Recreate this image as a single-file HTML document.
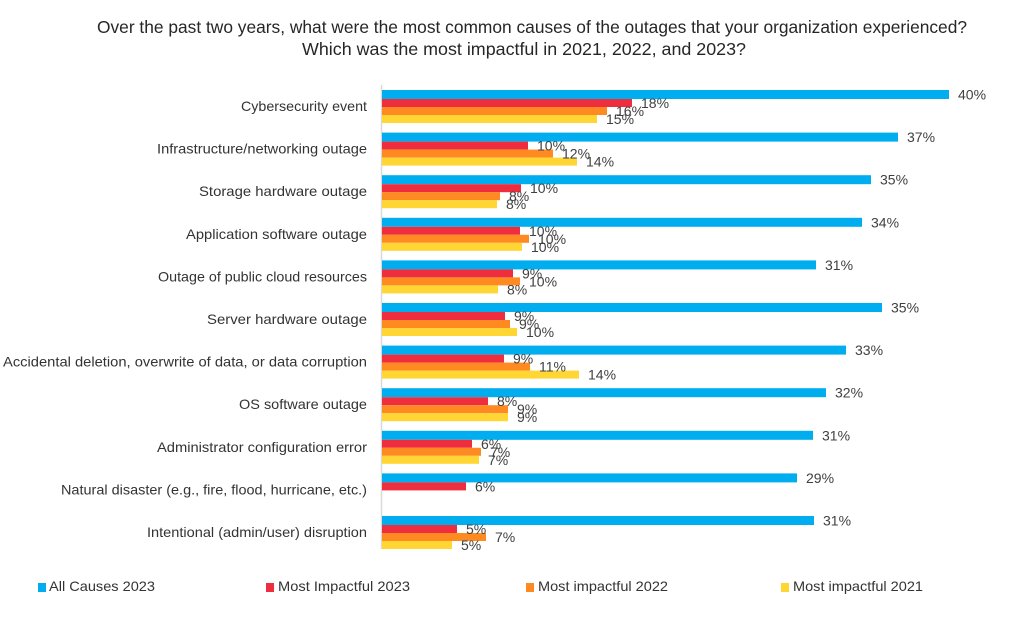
<!DOCTYPE html>
<html>
<head>
<meta charset="utf-8">
<style>
  html, body { margin: 0; padding: 0; background: #ffffff; }
  body { width: 1024px; height: 644px; overflow: hidden; }
  svg { display: block; }
  text { font-family: "Liberation Sans", Arial, sans-serif; }
  .t { font-size: 17.5px; fill: #262626; }
  .c { font-size: 14px; fill: #333333; text-anchor: end; }
  .v { font-size: 14px; fill: #404040; }
  .l { font-size: 14px; fill: #333333; }
</style>
</head>
<body>
<svg width="1024" height="644" viewBox="0 0 1024 644" xmlns="http://www.w3.org/2000/svg">
  <rect x="0" y="0" width="1024" height="644" fill="#ffffff"/>

  <!-- Title -->
  <text class="t" x="97" y="33" textLength="870" lengthAdjust="spacingAndGlyphs">Over the past two years, what were the most common causes of the outages that your organization experienced?</text>
  <text class="t" x="302" y="55" textLength="444" lengthAdjust="spacingAndGlyphs">Which was the most impactful in 2021, 2022, and 2023?</text>

  <!-- Axis line -->
  <line x1="381.5" y1="85" x2="381.5" y2="549" stroke="#d9d9d9" stroke-width="1.5"/>

  <!-- Category labels -->
  <text class="c" x="367" y="111" textLength="126" lengthAdjust="spacingAndGlyphs">Cybersecurity event</text>
  <text class="c" x="367" y="153.6" textLength="210" lengthAdjust="spacingAndGlyphs">Infrastructure/networking outage</text>
  <text class="c" x="367" y="196.2" textLength="168" lengthAdjust="spacingAndGlyphs">Storage hardware outage</text>
  <text class="c" x="367" y="238.8" textLength="181" lengthAdjust="spacingAndGlyphs">Application software outage</text>
  <text class="c" x="367" y="281.4" textLength="209" lengthAdjust="spacingAndGlyphs">Outage of public cloud resources</text>
  <text class="c" x="367" y="324" textLength="160" lengthAdjust="spacingAndGlyphs">Server hardware outage</text>
  <text class="c" x="367" y="366.6" textLength="364" lengthAdjust="spacingAndGlyphs">Accidental deletion, overwrite of data, or data corruption</text>
  <text class="c" x="367" y="409.2" textLength="128" lengthAdjust="spacingAndGlyphs">OS software outage</text>
  <text class="c" x="367" y="451.8" textLength="210" lengthAdjust="spacingAndGlyphs">Administrator configuration error</text>
  <text class="c" x="367" y="494.4" textLength="306" lengthAdjust="spacingAndGlyphs">Natural disaster (e.g., fire, flood, hurricane, etc.)</text>
  <text class="c" x="367" y="537" textLength="220" lengthAdjust="spacingAndGlyphs">Intentional (admin/user) disruption</text>

  <!-- Bars -->
  <g id="bars">
    <rect x="382" y="90" width="567" height="9" fill="#00AEEF"/>
    <rect x="382" y="99" width="250" height="8" fill="#EE2D3E"/>
    <rect x="382" y="107" width="225" height="8" fill="#FF8A22"/>
    <rect x="382" y="115" width="215" height="8" fill="#FFD633"/>

    <rect x="382" y="132.6" width="516" height="9" fill="#00AEEF"/>
    <rect x="382" y="141.6" width="146" height="8" fill="#EE2D3E"/>
    <rect x="382" y="149.6" width="171" height="8" fill="#FF8A22"/>
    <rect x="382" y="157.6" width="195" height="8" fill="#FFD633"/>

    <rect x="382" y="175.2" width="489" height="9" fill="#00AEEF"/>
    <rect x="382" y="184.2" width="139" height="8" fill="#EE2D3E"/>
    <rect x="382" y="192.2" width="118" height="8" fill="#FF8A22"/>
    <rect x="382" y="200.2" width="115" height="8" fill="#FFD633"/>

    <rect x="382" y="217.8" width="480" height="9" fill="#00AEEF"/>
    <rect x="382" y="226.8" width="138" height="8" fill="#EE2D3E"/>
    <rect x="382" y="234.8" width="147" height="8" fill="#FF8A22"/>
    <rect x="382" y="242.8" width="140" height="8" fill="#FFD633"/>

    <rect x="382" y="260.4" width="434" height="9" fill="#00AEEF"/>
    <rect x="382" y="269.4" width="131" height="8" fill="#EE2D3E"/>
    <rect x="382" y="277.4" width="138" height="8" fill="#FF8A22"/>
    <rect x="382" y="285.4" width="116" height="8" fill="#FFD633"/>

    <rect x="382" y="303" width="500" height="9" fill="#00AEEF"/>
    <rect x="382" y="312" width="123" height="8" fill="#EE2D3E"/>
    <rect x="382" y="320" width="128" height="8" fill="#FF8A22"/>
    <rect x="382" y="328" width="135" height="8" fill="#FFD633"/>

    <rect x="382" y="345.6" width="464" height="9" fill="#00AEEF"/>
    <rect x="382" y="354.6" width="122" height="8" fill="#EE2D3E"/>
    <rect x="382" y="362.6" width="148" height="8" fill="#FF8A22"/>
    <rect x="382" y="370.6" width="197" height="8" fill="#FFD633"/>

    <rect x="382" y="388.2" width="444" height="9" fill="#00AEEF"/>
    <rect x="382" y="397.2" width="106" height="8" fill="#EE2D3E"/>
    <rect x="382" y="405.2" width="126" height="8" fill="#FF8A22"/>
    <rect x="382" y="413.2" width="126" height="8" fill="#FFD633"/>

    <rect x="382" y="430.8" width="431" height="9" fill="#00AEEF"/>
    <rect x="382" y="439.8" width="90" height="8" fill="#EE2D3E"/>
    <rect x="382" y="447.8" width="99" height="8" fill="#FF8A22"/>
    <rect x="382" y="455.8" width="97" height="8" fill="#FFD633"/>

    <rect x="382" y="473.4" width="415" height="9" fill="#00AEEF"/>
    <rect x="382" y="482.4" width="84" height="8" fill="#EE2D3E"/>

    <rect x="382" y="516" width="432" height="9" fill="#00AEEF"/>
    <rect x="382" y="525" width="75" height="8" fill="#EE2D3E"/>
    <rect x="382" y="533" width="104" height="8" fill="#FF8A22"/>
    <rect x="382" y="541" width="70" height="8" fill="#FFD633"/>
  </g>

  <!-- Value labels -->
  <g>
    <text class="v" x="958" y="99.5">40%</text>
    <text class="v" x="641" y="108">18%</text>
    <text class="v" x="616" y="116">16%</text>
    <text class="v" x="606" y="124">15%</text>

    <text class="v" x="907" y="142.1">37%</text>
    <text class="v" x="537" y="150.6">10%</text>
    <text class="v" x="562" y="158.6">12%</text>
    <text class="v" x="586" y="166.6">14%</text>

    <text class="v" x="880" y="184.7">35%</text>
    <text class="v" x="530" y="193.2">10%</text>
    <text class="v" x="509" y="201.2">8%</text>
    <text class="v" x="506" y="209.2">8%</text>

    <text class="v" x="871" y="227.3">34%</text>
    <text class="v" x="529" y="235.8">10%</text>
    <text class="v" x="538" y="243.8">10%</text>
    <text class="v" x="531" y="251.8">10%</text>

    <text class="v" x="825" y="269.9">31%</text>
    <text class="v" x="522" y="278.4">9%</text>
    <text class="v" x="529" y="286.4">10%</text>
    <text class="v" x="507" y="294.4">8%</text>

    <text class="v" x="891" y="312.5">35%</text>
    <text class="v" x="514" y="321">9%</text>
    <text class="v" x="519" y="329">9%</text>
    <text class="v" x="526" y="337">10%</text>

    <text class="v" x="855" y="355.1">33%</text>
    <text class="v" x="513" y="363.6">9%</text>
    <text class="v" x="539" y="371.6">11%</text>
    <text class="v" x="588" y="379.6">14%</text>

    <text class="v" x="835" y="397.7">32%</text>
    <text class="v" x="497" y="406.2">8%</text>
    <text class="v" x="517" y="414.2">9%</text>
    <text class="v" x="517" y="422.2">9%</text>

    <text class="v" x="822" y="440.3">31%</text>
    <text class="v" x="481" y="448.8">6%</text>
    <text class="v" x="490" y="456.8">7%</text>
    <text class="v" x="488" y="464.8">7%</text>

    <text class="v" x="806" y="482.9">29%</text>
    <text class="v" x="475" y="491.4">6%</text>

    <text class="v" x="823" y="525.5">31%</text>
    <text class="v" x="466" y="534">5%</text>
    <text class="v" x="495" y="542">7%</text>
    <text class="v" x="461" y="550">5%</text>
  </g>

  <!-- Legend -->
  <rect x="38" y="583" width="8" height="9" fill="#00AEEF"/>
  <text class="l" x="49" y="591" textLength="106" lengthAdjust="spacingAndGlyphs">All Causes 2023</text>
  <rect x="266" y="583" width="8" height="9" fill="#EE2D3E"/>
  <text class="l" x="278" y="591" textLength="132" lengthAdjust="spacingAndGlyphs">Most Impactful 2023</text>
  <rect x="526" y="583" width="8" height="9" fill="#FF8A22"/>
  <text class="l" x="538" y="591" textLength="130" lengthAdjust="spacingAndGlyphs">Most impactful 2022</text>
  <rect x="781" y="583" width="8" height="9" fill="#FFD633"/>
  <text class="l" x="793" y="591" textLength="130" lengthAdjust="spacingAndGlyphs">Most impactful 2021</text>
</svg>
</body>
</html>
